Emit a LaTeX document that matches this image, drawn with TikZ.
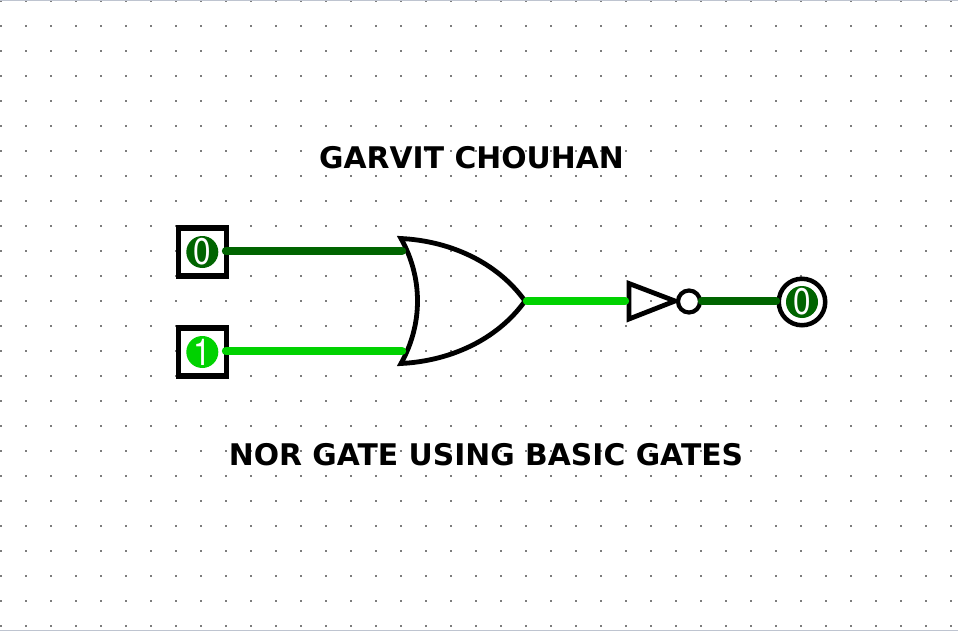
\documentclass[tikz,border=0pt]{standalone}
\usepackage{fontspec}
\setmainfont{DejaVu Sans}
\newfontfamily\digitfont[FakeStretch=0.85]{TeX Gyre Heros}
\usepackage{tikz}
\definecolor{wirelow}{RGB}{0,100,0}
\definecolor{wirehigh}{RGB}{0,210,0}
\definecolor{griddot}{RGB}{125,125,125}
\definecolor{sheetline}{RGB}{190,196,208}
\tikzstyle{pinbox} = [rectangle, draw=black, line width=5.5pt, fill=white, minimum width=48pt, minimum height=48pt]
\tikzstyle{pinring} = [circle, draw=black, line width=4.5pt, fill=white, minimum size=46.5pt]
\tikzstyle{lowbit} = [circle, fill=wirelow, text=white, inner sep=0pt, minimum size=32pt, font=\digitfont\fontsize{37}{37}\selectfont]
\tikzstyle{highbit} = [circle, fill=wirehigh, text=white, inner sep=0pt, minimum size=32pt, font=\digitfont\fontsize{37}{37}\selectfont]
\tikzstyle{gateline} = [draw=black, line width=4.8pt, line join=miter]
\tikzstyle{bubble} = [circle, draw=black, line width=4.2pt, fill=white, inner sep=0pt, minimum size=22pt]
\tikzstyle{wire} = [line width=8.4pt, line cap=round]
\tikzstyle{title} = [font=\bfseries\fontsize{29.8}{30}\selectfont]
\begin{document}
\begin{tikzpicture}[x=1pt, y=-1pt, node distance=100pt]
            \useasboundingbox (0,0) rectangle (958,631);
            \fill [white] (0,0) rectangle (958,631);
            % sheet grid
            \foreach \gx in {0,...,38} {
                \foreach \gy in {0,...,25} {
                    \fill [griddot] (\gx*25,\gy*25) rectangle ++(2,2);
                }
            }
            \fill [sheetline] (0,0) rectangle (958,1);
            \fill [sheetline] (0,630) rectangle (958,631);
            \node (name) [title] at (471.5,157.5) {GARVIT CHOUHAN};
            \node (caption) [title] at (486,455) {NOR GATE USING BASIC GATES};
            % inputs
            \node (in0) [pinbox] at (202.3,252) {};
            \node (in1) [pinbox, below of=in0] {};
            \node (bit0) [lowbit] at (in0) {0};
            \node (bit1) [highbit] at (in1) {1};
            % or gate
            \coordinate (ortop) at (401,238.5);
            \coordinate (orbot) at (401,363.5);
            \coordinate (orout) at (525,301);
            \draw [gateline] (ortop) .. controls (423,278) and (423,324) .. (orbot)
                .. controls (450,361) and (497,340) .. (orout)
                .. controls (497,262) and (450,241) .. cycle;
            % inverter
            \coordinate (nottop) at (629,283.5);
            \coordinate (notbot) at (629,319);
            \coordinate (nottip) at (675,301);
            \draw [gateline] (nottop) -- (nottip) -- (notbot) -- cycle;
            \node (notdot) [bubble] at (689,301.5) {};
            % output
            \node (out) [pinring] at (802,302) {};
            \node (bitout) [lowbit] at (out) {0};
            % wire ends
            \coordinate (in0pin) at (226,251);
            \coordinate (in1pin) at (226,351);
            \coordinate (orin0) at (402,251);
            \coordinate (orin1) at (402,351);
            \coordinate (orpin) at (527,301);
            \coordinate (notin) at (625,301);
            \coordinate (notpin) at (702,301);
            \coordinate (outpin) at (776,301);
            \draw [wire, wirelow] (in0pin) -- (orin0);
            \draw [wire, wirehigh] (in1pin) -- (orin1);
            \draw [wire, wirehigh] (orpin) -- (notin);
            \draw [wire, wirelow] (notpin) -- (outpin);
\end{tikzpicture}
\end{document}
